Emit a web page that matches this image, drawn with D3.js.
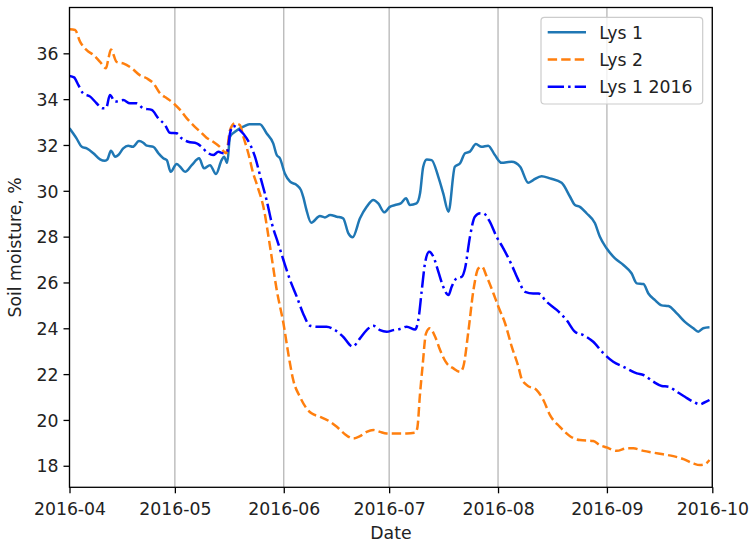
<!DOCTYPE html>
<html>
<head>
<meta charset="utf-8">
<script src="https://cdn.jsdelivr.net/npm/d3@7"></script>
<style>
  body { margin: 0; background: #fff; }
  text { font-family: "DejaVu Sans", sans-serif; }
</style>
</head>
<body>
<div id="chart"></div>
<script>
// days after 2016-04-01
var lys1Days = [0, 2, 3.5, 4.9, 6.8, 8.7, 10.1, 10.8, 11.8, 13, 13.9, 15.3, 16.7, 18, 19.8, 21, 22, 23.9, 25.3, 26.7, 27.7, 28.8, 30.5, 31.5, 32.9, 34.8, 36.9, 38.3, 40, 41.7, 43.3, 44, 44.9, 45.7, 47.1, 49.5, 51.2, 54.2, 56.1, 58, 59, 59.9, 61.3, 62.8, 64.7, 65.9, 66.6, 67.4, 68.8, 71.3, 72.7, 74.2, 76.1, 77.9, 79.4, 80.6, 82.7, 84.6, 86.5, 87.9, 89.6, 91.2, 92.7, 94.3, 95.8, 96.9, 98.8, 99.8, 100.7, 101.7, 103.1, 105, 106.4, 107.9, 109.7, 111.2, 112.6, 114, 115.7, 117.3, 119.2, 121.1, 123, 125.9, 128.3, 130.6, 132, 134.4, 136.8, 140.1, 142.5, 143.9, 145.3, 147.2, 149.6, 151, 152.9, 155.3, 157.7, 160, 161.5, 163.4, 164.8, 166.7, 168.6, 170.5, 172.9, 175.2, 177.6, 179, 180.4, 182.2];
var lys1 = [32.73, 32.29, 31.92, 31.85, 31.64, 31.37, 31.31, 31.37, 31.75, 31.49, 31.56, 31.85, 31.97, 31.92, 32.17, 32.10, 31.97, 31.92, 31.64, 31.42, 31.34, 30.83, 31.17, 31.05, 30.83, 31.12, 31.42, 30.98, 31.12, 30.73, 31.34, 31.49, 31.22, 32.36, 32.58, 32.80, 32.91, 32.91, 32.51, 32.07, 31.56, 31.42, 30.76, 30.40, 30.25, 30.03, 29.7, 29.2, 28.61, 28.90, 28.84, 28.94, 28.87, 28.80, 28.14, 27.97, 28.80, 29.30, 29.60, 29.45, 29.06, 29.30, 29.38, 29.45, 29.67, 29.38, 29.45, 29.89, 31.05, 31.37, 31.34, 30.61, 29.89, 29.09, 31.05, 31.20, 31.64, 31.71, 32.04, 31.92, 31.97, 31.56, 31.22, 31.27, 31.05, 30.35, 30.47, 30.64, 30.54, 30.35, 29.74, 29.38, 29.30, 29.02, 28.58, 27.99, 27.49, 27.05, 26.76, 26.40, 25.96, 25.93, 25.52, 25.23, 25.0, 24.97, 24.65, 24.28, 24.0, 23.85, 24.0, 24.04];

var lys2Days = [0, 1.6, 3, 4.9, 6.8, 8.7, 10.4, 11, 11.8, 13.4, 15.3, 17.7, 20, 22, 23.9, 25.8, 27.7, 29.6, 31.5, 33.4, 35.2, 37.2, 39, 40.9, 42.8, 44.6, 45.7, 47.1, 48.5, 49.5, 50.9, 52.3, 53.5, 55.2, 57.1, 59, 60.9, 62.5, 63.7, 65.6, 67.5, 68.9, 71.3, 74.2, 76.1, 78.4, 80.8, 82.7, 84.6, 86.5, 88.4, 90.3, 93.2, 96, 98.4, 99, 99.8, 100.5, 101.5, 102.6, 104.1, 105.5, 107.4, 109.3, 111.2, 112.1, 113.6, 115, 116.4, 117.4, 118.8, 120.7, 122.1, 124, 125.9, 127.8, 128.7, 130.2, 133, 134.9, 136.8, 139.6, 142.5, 145.3, 149.1, 151, 152.9, 155.8, 158.6, 160.5, 163.4, 166.3, 169, 171.9, 174.8, 177.6, 179.5, 180.9, 182.2];
var lys2 = [37.05, 37.02, 36.51, 36.14, 35.93, 35.63, 35.35, 35.71, 36.17, 35.63, 35.56, 35.35, 35.05, 34.91, 34.69, 34.25, 34.04, 33.82, 33.53, 33.16, 32.87, 32.58, 32.32, 32.14, 31.92, 31.64, 32.65, 32.94, 32.87, 32.36, 31.64, 30.76, 30.2, 29.30, 27.56, 25.67, 24.22, 22.7, 21.74, 21.01, 20.50, 20.29, 20.14, 19.92, 19.70, 19.38, 19.19, 19.29, 19.48, 19.56, 19.48, 19.41, 19.41, 19.41, 19.44, 19.63, 21.16, 22.32, 23.78, 24.0, 23.63, 23.05, 22.47, 22.25, 22.1, 22.32, 23.92, 25.67, 26.61, 26.69, 26.25, 25.52, 24.94, 24.22, 23.20, 22.32, 21.8, 21.52, 21.30, 20.87, 20.21, 19.70, 19.29, 19.12, 19.08, 18.90, 18.80, 18.65, 18.76, 18.76, 18.65, 18.57, 18.50, 18.42, 18.29, 18.10, 18.03, 18.07, 18.25];

var lys1y16Days = [0, 1.3, 2.5, 3.9, 5.9, 7.7, 9.5, 10.4, 11.5, 13, 15.3, 17.2, 19.1, 21, 23.4, 25.3, 27.2, 28.6, 30.5, 31.9, 33.8, 36.2, 37.6, 39, 40.9, 42.4, 43.8, 44.9, 45.7, 46.6, 48.5, 50.4, 52.8, 54.7, 56.1, 57.6, 59.4, 60.9, 62.8, 64.7, 66.5, 68.5, 70.4, 73.2, 75.6, 77.9, 80.6, 82.7, 84.6, 86.5, 88.4, 90.3, 92.2, 94.1, 96, 98.4, 99.3, 100.3, 101.2, 102.4, 103.6, 105, 106.4, 107.9, 108.8, 110.2, 111.7, 112.6, 114, 115.4, 116.9, 117.8, 119.5, 121.6, 123.5, 125.9, 127.8, 129.7, 132, 133.5, 135.8, 138.7, 141.5, 143.9, 146.3, 149.1, 152, 154.8, 157.7, 161.5, 163.4, 166.2, 168.6, 170.5, 172.9, 175.2, 177.6, 179.5, 180.6, 182.2];
var lys1y16 = [35.01, 34.95, 34.62, 34.25, 34.11, 33.82, 33.60, 33.60, 34.18, 33.89, 33.96, 33.82, 33.82, 33.60, 33.53, 33.16, 32.87, 32.53, 32.51, 32.29, 32.14, 32.07, 31.92, 31.70, 31.56, 31.70, 31.64, 31.70, 32.51, 32.83, 32.65, 32.3, 31.49, 30.40, 29.60, 28.58, 27.71, 26.98, 26.10, 25.38, 24.65, 24.11, 24.07, 24.07, 23.92, 23.63, 23.20, 23.56, 23.92, 24.11, 23.92, 23.85, 23.92, 23.97, 24.07, 23.95, 24.36, 25.67, 26.83, 27.34, 27.12, 26.47, 25.81, 25.45, 25.81, 26.18, 26.25, 26.61, 27.99, 28.87, 29.02, 29.02, 28.7, 27.99, 27.49, 26.76, 26.10, 25.59, 25.52, 25.52, 25.16, 24.80, 24.36, 23.85, 23.70, 23.41, 22.91, 22.54, 22.32, 22.03, 21.96, 21.67, 21.48, 21.45, 21.23, 21.01, 20.79, 20.68, 20.75, 20.87];

var seriesNames = ["Lys 1", "Lys 2", "Lys 1 2016"];
var yTicks = [18, 20, 22, 24, 26, 28, 30, 32, 34, 36];

var width = 749,
    height = 544,
    plotL = 69.5, plotR = 712.3, plotT = 7.5, plotB = 487.3,
    fontSize = "17.3px";

var start = new Date(2016, 3, 1);
function toDate(d) { return new Date(start.getTime() + d * 864e5); }

var x = d3.scaleTime()
    .domain([start, new Date(2016, 9, 1)])
    .range([plotL, plotR]);

var y = d3.scaleLinear()
    .domain([17.06, 38.0])
    .range([plotB, plotT]);

var svg = d3.select("#chart").append("svg")
    .attr("width", width)
    .attr("height", height);

// vertical grid
svg.append("g")
    .selectAll("line")
    .data(x.ticks(d3.timeMonth.every(1)))
    .enter().append("line")
    .attr("x1", function(d) { return x(d); })
    .attr("x2", function(d) { return x(d); })
    .attr("y1", plotT)
    .attr("y2", plotB)
    .attr("stroke", "#b0b0b0")
    .attr("stroke-width", 1.2);

var series = [
  { name: seriesNames[0], days: lys1Days, vals: lys1, color: "#1f77b4", dash: null },
  { name: seriesNames[1], days: lys2Days, vals: lys2, color: "#ff7f0e", dash: "9.4,4.1" },
  { name: seriesNames[2], days: lys1y16Days, vals: lys1y16, color: "#0000ff", dash: "16.3,4.1,2.5,4.1" }
];

var line = d3.line()
    .x(function(d) { return x(toDate(d[0])); })
    .y(function(d) { return y(d[1]); })
    .curve(d3.curveMonotoneX);

svg.append("defs").append("clipPath").attr("id", "clip")
  .append("rect").attr("x", plotL).attr("y", plotT)
  .attr("width", plotR - plotL).attr("height", plotB - plotT);

svg.append("g").attr("clip-path", "url(#clip)")
  .selectAll("path")
  .data(series)
  .enter().append("path")
    .attr("fill", "none")
    .attr("stroke", function(s) { return s.color; })
    .attr("stroke-width", 2.5)
    .attr("stroke-linejoin", "round")
    .attr("stroke-dasharray", function(s) { return s.dash; })
    .attr("d", function(s) { return line(s.days.map(function(d, i) { return [d, s.vals[i]]; })); });

// axes
var xAxis = svg.append("g")
    .attr("transform", "translate(0," + plotB + ")")
    .call(d3.axisBottom(x).ticks(d3.timeMonth.every(1)).tickFormat(d3.timeFormat("%Y-%m")).tickSize(6).tickPadding(6));

var yAxis = svg.append("g")
    .attr("transform", "translate(" + plotL + ",0)")
    .call(d3.axisLeft(y).tickValues(yTicks).tickSize(6).tickPadding(5));

[xAxis, yAxis].forEach(function(a) {
  a.select(".domain").remove();
  a.selectAll(".tick line").attr("stroke", "#000").attr("stroke-width", 1.3);
  a.selectAll(".tick text").attr("fill", "#222").style("font-size", fontSize).style("font-family", "DejaVu Sans");
});
xAxis.selectAll(".tick text").attr("dy", null).attr("y", 27.7);
yAxis.selectAll(".tick text").attr("dy", "0.36em");

// frame
svg.append("rect")
    .attr("x", plotL).attr("y", plotT)
    .attr("width", plotR - plotL).attr("height", plotB - plotT)
    .attr("fill", "none")
    .attr("stroke", "#000")
    .attr("stroke-width", 1.3);

svg.append("text")
    .attr("x", (plotL + plotR) / 2)
    .attr("y", 539)
    .attr("text-anchor", "middle")
    .attr("fill", "#222")
    .style("font-size", fontSize)
    .text("Date");

svg.append("text")
    .attr("transform", "translate(21," + (plotT + plotB) / 2 + ") rotate(-90)")
    .attr("text-anchor", "middle")
    .attr("fill", "#222")
    .style("font-size", fontSize)
    .text("Soil moisture, %");

// legend
var legend = svg.append("g");
legend.append("rect")
    .attr("x", 541).attr("y", 17.3)
    .attr("width", 161.7).attr("height", 86.7)
    .attr("rx", 3.5)
    .attr("fill", "#fff").attr("fill-opacity", 0.8)
    .attr("stroke", "#cccccc").attr("stroke-width", 1.2);

var item = legend.selectAll("g.item")
    .data(series)
    .enter().append("g")
    .attr("class", "item")
    .attr("transform", function(s, i) { return "translate(0," + (32.3 + i * 27.2) + ")"; });

item.append("line")
    .attr("x1", 547.7).attr("x2", 586)
    .attr("stroke", function(s) { return s.color; })
    .attr("stroke-width", 2.5)
    .attr("stroke-dasharray", function(s) { return s.dash; });

item.append("text")
    .attr("x", 599.3)
    .attr("dy", "0.36em")
    .attr("fill", "#222")
    .style("font-size", fontSize)
    .text(function(s) { return s.name; });
</script>
</body>
</html>
